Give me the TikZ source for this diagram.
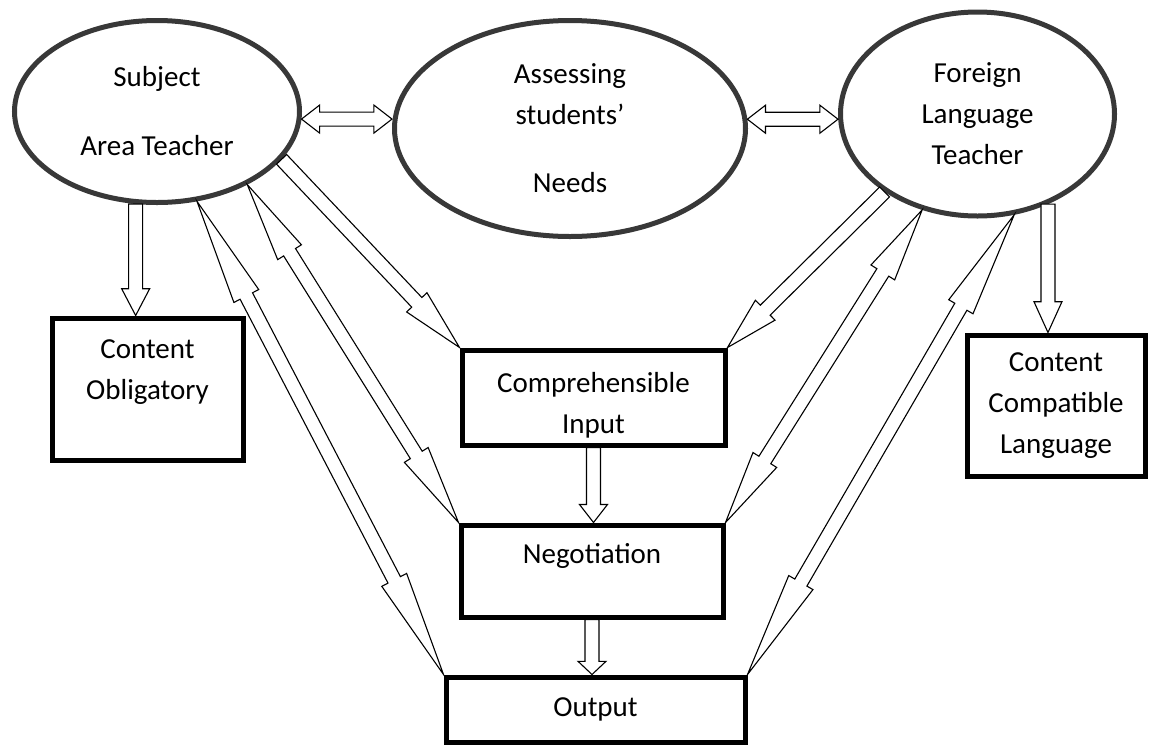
\documentclass[tikz,border=0pt]{standalone}
\usepackage{fontspec}
\setmainfont{Carlito}
\usetikzlibrary{calc,shapes.geometric}
\tikzset{
  ell/.style={ellipse, draw=black!78, line width=5pt, inner sep=0pt, align=center},
  rbox/.style={rectangle, draw, line width=5pt, inner sep=0pt, align=center},
  blockarr/.style={draw, fill=white, line width=1.1pt, line join=miter},
}
\newcommand{\arrshaft}{7pt}
\newcommand{\arrhead}{14pt}
% hollow block arrow, one head
\newcommand{\sglarr}[2]{%
  \coordinate (nk) at ($(#1)!0.76!(#2)$);
  \draw[blockarr] ($(#1)!\arrshaft!90:(#2)$) -- ($(nk)!\arrshaft!90:(#2)$)
    -- ($(nk)!\arrhead!90:(#2)$) -- (#2) -- ($(nk)!\arrhead!-90:(#2)$)
    -- ($(nk)!\arrshaft!-90:(#2)$) -- ($(#1)!\arrshaft!-90:(#2)$) -- cycle;}
% hollow block arrow, two heads
\newcommand{\dblarr}[2]{%
  \coordinate (na) at ($(#1)!0.2!(#2)$);
  \coordinate (nb) at ($(#1)!0.8!(#2)$);
  \draw[blockarr] (#1) -- ($(na)!\arrhead!90:(#2)$) -- ($(na)!\arrshaft!90:(#2)$)
    -- ($(nb)!\arrshaft!90:(#2)$) -- ($(nb)!\arrhead!90:(#2)$) -- (#2)
    -- ($(nb)!\arrhead!-90:(#2)$) -- ($(nb)!\arrshaft!-90:(#2)$)
    -- ($(na)!\arrshaft!-90:(#2)$) -- ($(na)!\arrhead!-90:(#2)$) -- cycle;}
\begin{document}
\begin{tikzpicture}[x=1pt,y=-1pt,font=\fontsize{29}{41}\selectfont]
\useasboundingbox (0,0) rectangle (1150,745);
% the three teachers / needs
\node[ell, minimum width=285, minimum height=182] (sat) at (157,111.5) {Subject\\[28pt]Area Teacher};
\node[ell, minimum width=351, minimum height=216] (asn) at (570,128.5) {Assessing\\students’\\[27pt]Needs};
\node[ell, minimum width=274, minimum height=204] (flt) at (977.5,114) {Foreign\\Language\\Teacher};
% boxes
\node[rbox, minimum width=191, minimum height=142] (co) at (147.5,389) {Content\\Obligatory\\[-3pt]\mbox{}};
\node[rbox, minimum width=263, minimum height=95] (ci) at (593.5,397.5) {\mbox{}\\[-5pt]Comprehensible\\Input};
\node[rbox, minimum width=262, minimum height=92] (neg) at (592,571) {Negotiation\\[-5pt]\mbox{}};
\node[rbox, minimum width=299, minimum height=65] (out) at (595.5,709.5) {Output};
\node[rbox, minimum width=178, minimum height=141] (ccl) at (1056,405.5) {Content\\Compatible\\Language};
% end points
\coordinate (asn-in) at (sat.-3 -| asn.west);
\coordinate (flt-in) at (asn.3 -| flt.west);
\coordinate (co-in) at (sat.-103 |- co.north);
\coordinate (ccl-in) at (flt.-52 |- ccl.north);
\coordinate (neg-in) at (ci.south |- neg.north);
\coordinate (out-in) at (neg.south |- out.north);
% arrows
\dblarr{sat.-3}{asn-in}
\dblarr{asn.3}{flt-in}
\sglarr{sat.-103}{co-in}
\sglarr{sat.-21}{ci.north west}
\dblarr{sat.-39}{neg.north west}
\dblarr{sat.-66}{out.north west}
\sglarr{flt.-140}{ci.north east}
\dblarr{flt.-120}{neg.north east}
\dblarr{flt.-70}{out.north east}
\sglarr{flt.-52}{ccl-in}
\sglarr{ci.south}{neg-in}
\sglarr{neg.south}{out-in}
\end{tikzpicture}
\end{document}
